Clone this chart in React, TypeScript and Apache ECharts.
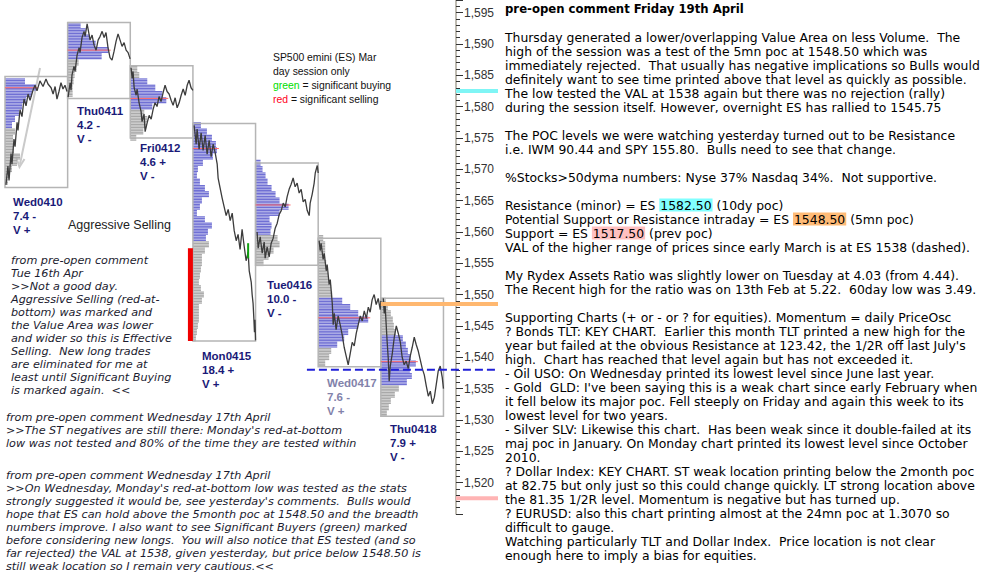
import React, { useEffect, useRef } from "react";
import * as echarts from "echarts";

// ---------- data ----------
const DAYS = ["Wed0410", "Thu0411", "Fri0412", "Mon0415", "Tue0416", "Wed0417", "Thu0418"];
const DAY_RANGE = ["7.4 -", "4.2 -", "4.6 +", "18.4 +", "10.0 -", "7.6 -", "7.9 +"];
const DAY_VOL = ["V +", "V -", "V -", "V +", "V -", "V +", "V -"];
const HIGHS = [1584.8, 1593.4, 1586.5, 1577.3, 1571.0, 1559.0, 1549.4];
const LOWS = [1567.1, 1581.3, 1575.0, 1542.6, 1554.7, 1538.5, 1530.6];
const POCS = [1583.0, 1589.0, 1581.3, 1573.3, 1564.3, 1546.3, 1539.3];
const VA_HIGH = [1585.0, 1594.0, 1584.5, 1578.0, 1572.0, 1549.5, 1543.5];
const VA_LOW = [1576.5, 1587.5, 1579.5, 1558.5, 1559.5, 1541.5, 1535.5];
const PROFILE_TOP = [1584, 1593, 1586, 1577, 1571, 1559, 1549];

const PROFILE_WED0410 = [20, 31, 27, 21, 17, 14, 10, 7, 10, 8, 8, 9, 15, 12, 7, 5, 3];
const PROFILE_THU0411 = [13, 18, 22, 28, 41, 34, 11, 9, 7, 6, 5, 5];
const PROFILE_FRI0412 = [7, 9, 17, 25, 32, 36, 22, 14, 17, 16, 13, 6];
const PROFILE_MON0415 = [8, 14, 19, 23, 24, 20, 10, 5, 4, 7, 12, 16, 9, 7, 4, 12, 19, 15, 13, 16, 12, 9, 9, 8, 7, 6, 8, 11, 9, 6, 6, 6, 5, 4, 3];
const PROFILE_TUE0416 = [5, 7, 10, 12, 16, 20, 24, 33, 24, 14, 16, 15, 22, 24, 18, 13, 8];
const PROFILE_WED0417 = [5, 7, 7, 7, 8, 9, 10, 11, 13, 14, 24, 32, 40, 50, 40, 30, 26, 19, 13, 11, 7];
const PROFILE_THU0418 = [5, 7, 10, 12, 13, 15, 22, 25, 27, 30, 35, 29, 31, 26, 18, 14, 10, 8, 6];
const PROFILES = [PROFILE_WED0410, PROFILE_THU0411, PROFILE_FRI0412, PROFILE_MON0415, PROFILE_TUE0416, PROFILE_WED0417, PROFILE_THU0418];

// price paths: [minute of session, price]
const PATH_WED0410 = [[6,1567.5],[19,1570.5],[26,1568.2],[39,1572.5],[45,1570.8],[58,1574.8],[65,1573.6],[78,1577.5],[84,1576.2],[97,1579.5],[110,1578.4],[123,1581.2],[136,1580.1],[149,1582.0],[162,1581.0],[181,1582.6],[194,1583.4],[207,1582.5],[226,1584.1],[246,1583.2],[265,1584.4],[278,1583.6],[298,1583.0],[311,1582.0],[324,1583.2],[336,1581.2],[349,1582.4],[362,1583.8],[375,1582.8],[388,1583.4],[401,1582.4]];
const PATH_THU0411 = [[3,1581.5],[16,1583.8],[22,1582.6],[28,1585.0],[41,1586.4],[48,1585.6],[61,1588.2],[74,1589.4],[80,1588.6],[93,1591.0],[106,1592.0],[113,1591.2],[126,1593.2],[138,1591.6],[145,1590.6],[158,1591.4],[171,1589.8],[184,1589.0],[197,1590.6],[210,1591.2],[223,1592.0],[236,1591.0],[248,1591.8],[261,1589.4],[274,1587.8],[287,1587.4],[300,1588.8],[313,1590.4],[326,1591.6],[339,1590.6],[352,1589.6],[365,1590.2],[378,1589.0],[391,1588.6],[404,1587.6]];
const PATH_FRI0412 = [[5,1586.2],[12,1584.5],[18,1585.6],[25,1583.0],[38,1581.8],[44,1582.8],[57,1580.6],[70,1579.2],[76,1577.6],[89,1578.8],[96,1576.0],[109,1577.4],[122,1578.6],[135,1578.0],[148,1579.6],[160,1580.6],[173,1580.0],[186,1581.6],[199,1580.8],[212,1582.2],[225,1583.4],[238,1582.4],[251,1582.0],[264,1581.0],[277,1580.2],[290,1581.4],[303,1579.8],[316,1580.6],[329,1581.8],[342,1582.8],[355,1581.8],[368,1583.4],[380,1584.2],[393,1583.0],[405,1582.6]];
const PATH_MON0415 = [[8,1577.0],[21,1574.0],[27,1576.4],[40,1573.2],[53,1575.8],[66,1573.0],[79,1575.4],[92,1572.4],[105,1574.6],[118,1572.0],[131,1574.0],[144,1572.6],[157,1570.8],[163,1568.6],[176,1567.0],[189,1565.4],[202,1564.0],[215,1562.6],[228,1563.6],[241,1561.8],[254,1563.0],[267,1560.2],[280,1558.6],[292,1559.6],[305,1557.2],[318,1560.4],[331,1557.8],[344,1555.4],[357,1556.8],[364,1553.8],[377,1552.0],[383,1550.0],[389,1548.6],[394,1546.2],[398,1544.0],[401,1546.0],[405,1542.7]];
const PATH_TUE0416 = [[10,1560.0],[17,1557.4],[30,1559.2],[43,1556.6],[56,1558.4],[62,1555.8],[75,1557.6],[88,1556.0],[101,1558.2],[114,1559.0],[127,1560.6],[140,1561.4],[153,1562.8],[166,1563.4],[179,1564.6],[192,1564.0],[204,1565.6],[217,1566.8],[230,1567.6],[243,1568.6],[256,1567.2],[269,1567.8],[282,1566.2],[295,1566.8],[308,1564.8],[321,1565.2],[334,1563.4],[347,1562.6],[353,1564.6],[366,1566.0],[379,1567.8],[386,1569.4],[399,1570.6],[405,1569.4]];
const PATH_WED0417 = [[6,1558.6],[13,1557.0],[19,1558.2],[32,1555.6],[39,1556.6],[52,1553.8],[58,1554.8],[71,1551.6],[78,1552.4],[91,1548.6],[97,1545.2],[104,1547.0],[116,1544.4],[129,1546.6],[142,1545.2],[155,1543.6],[168,1541.6],[181,1540.2],[194,1538.8],[207,1540.6],[220,1542.4],[233,1541.8],[246,1543.8],[259,1545.2],[272,1546.6],[285,1545.8],[298,1547.4],[311,1546.2],[324,1548.0],[336,1547.2],[349,1549.2],[362,1550.0],[375,1548.4],[388,1549.4],[401,1547.6],[405,1549.0]];
const PATH_THU0418 = [[16,1549.4],[22,1547.0],[28,1548.2],[35,1545.0],[41,1542.4],[48,1539.8],[54,1536.2],[61,1538.6],[74,1540.6],[87,1543.2],[100,1545.0],[113,1543.8],[126,1542.4],[138,1540.0],[151,1538.8],[164,1539.4],[177,1538.2],[190,1540.2],[203,1541.6],[216,1543.2],[229,1542.0],[242,1541.0],[255,1539.6],[268,1538.2],[281,1537.2],[294,1535.4],[307,1533.8],[320,1534.6],[333,1532.6],[346,1533.6],[358,1535.6],[371,1537.8],[384,1538.6],[397,1536.8],[405,1535.0]];
const PATHS = [PATH_WED0410, PATH_THU0411, PATH_FRI0412, PATH_MON0415, PATH_TUE0416, PATH_WED0417, PATH_THU0418];

const SELLING = [[3, 1557.4, 1542.6]]; // [day, top, bottom]
const BUYING = [[3, 357, 1558.2, 1555.8]]; // [day, minute, top, bottom]
const LEVEL_PRICES = [1582.5, 1548.5, 1517.5];
const LEVEL_START_DAY = [7.2, 6.0, 7.2];
const LEVEL_COLORS = ["#7ff5f5", "#ffb870", "#ffb4b4"];
const VAL_PRICE = 1538;
const VAL_START_DAY = 4.82;

const Y_MIN = 1515;
const Y_MAX = 1597;
const Y_INTERVAL = 5;
const SESSION_MIN = 405;
const TPO_UNIT = 1 / 62.6;

const RIGHT_LINES = [
  "Thursday generated a lower/overlapping Value Area on less Volume.  The",
  "high of the session was a test of the 5mn poc at 1548.50 which was",
  "immediately rejected.  That usually has negative implications so Bulls would",
  "definitely want to see time printed above that level as quickly as possible.",
  "The low tested the VAL at 1538 again but there was no rejection (rally)",
  "during the session itself. However, overnight ES has rallied to 1545.75",
  "",
  "The POC levels we were watching yesterday turned out to be Resistance",
  "i.e. IWM 90.44 and SPY 155.80.  Bulls need to see that change.",
  "",
  "%Stocks>50dyma numbers: Nyse 37% Nasdaq 34%.  Not supportive.",
  "",
  "Resistance (minor) = ES {c|1582.50} (10dy poc)",
  "Potential Support or Resistance intraday = ES {o|1548.50} (5mn poc)",
  "Support = ES {p|1517.50} (prev poc)",
  "VAL of the higher range of prices since early March is at ES 1538 (dashed).",
  "",
  "My Rydex Assets Ratio was slightly lower on Tuesday at 4.03 (from 4.44).",
  "The Recent high for the ratio was on 13th Feb at 5.22.  60day low was 3.49.",
  "",
  "Supporting Charts (+ or - or ? for equities). Momentum = daily PriceOsc",
  "? Bonds TLT: KEY CHART.  Earlier this month TLT printed a new high for the",
  "year but failed at the obvious Resistance at 123.42, the 1/2R off last July's",
  "high.  Chart has reached that level again but has not exceeded it.",
  "- Oil USO: On Wednesday printed its lowest level since June last year.",
  "- Gold  GLD: I've been saying this is a weak chart since early February when",
  "it fell below its major poc. Fell steeply on Friday and again this week to its",
  "lowest level for two years.",
  "- Silver SLV: Likewise this chart.  Has been weak since it double-failed at its",
  "maj poc in January. On Monday chart printed its lowest level since October",
  "2010.",
  "? Dollar Index: KEY CHART. ST weak location printing below the 2month poc",
  "at 82.75 but only just so this could change quickly. LT strong location above",
  "the 81.35 1/2R level. Momentum is negative but has turned up.",
  "? EURUSD: also this chart printing almost at the 24mn poc at 1.3070 so",
  "difficult to gauge.",
  "Watching particularly TLT and Dollar Index.  Price location is not clear",
  "enough here to imply a bias for equities.",
];
const RIGHT_TITLE = "pre-open comment Friday 19th April";

const LEFT_BLOCK1 = [
  "from pre-open comment",
  "Tue 16th Apr",
  ">>Not a good day.",
  "Aggressive Selling (red-at-",
  "bottom) was marked and",
  "the Value Area was lower",
  "and wider so this is Effective",
  "Selling.  New long trades",
  "are eliminated for me at",
  "least until Significant Buying",
  "is marked again.  <<",
];
const LEFT_BLOCK2 = [
  "from pre-open comment Wednesday 17th April",
  ">>The ST negatives are still there: Monday's red-at-bottom",
  "low was not tested and 80% of the time they are tested within",
];
const LEFT_BLOCK3 = [
  "from pre-open comment Wednesday 17th April",
  ">>On Wednesday, Monday's red-at-bottom low was tested as the stats",
  "strongly suggested it would be, see yesterday's comments.  Bulls would",
  "hope that ES can hold above the 5month poc at 1548.50 and the breadth",
  "numbers improve. I also want to see Significant Buyers (green) marked",
  "before considering new longs.  You will also notice that ES tested (and so",
  "far rejected) the VAL at 1538, given yesterday, but price below 1548.50 is",
  "still weak location so I remain very cautious.<<",
];
const LEGEND_LINES = ["SP500 emini (ES) Mar", "day session only", "{g|green} = significant buying", "{r|red} = significant selling"];

// ---------- layout / styles ----------
const LABEL_POS = [[13, 202], [77, 111], [140, 148], [202, 356], [267, 285], [327, 383], [390, 429]];
const VERDANA = "Verdana, 'DejaVu Sans', sans-serif";
const ARIAL = "Arial, 'Liberation Sans', sans-serif";
const VA_BLUE = "#7070d4";
const OUT_GRAY = "#a9a9a9";

export default function App() {
  const ref = useRef<HTMLDivElement>(null);
  useEffect(() => {
    if (!ref.current) return;
    const chart = echarts.init(ref.current, undefined, { renderer: "svg" });

    const profileData: number[][] = [];
    PROFILES.forEach((prof, d) => {
      prof.forEach((w, i) => {
        const p = PROFILE_TOP[d] - i;
        const va = p >= VA_LOW[d] && p <= VA_HIGH[d] ? 1 : 0;
        profileData.push([d, p, w, va]);
      });
    });
    const boxData = DAYS.map((_, d) => [d, HIGHS[d], LOWS[d]]);
    const pocData = DAYS.map((_, d) => [d, POCS[d], Math.max(...PROFILES[d]) + 2]);

    const series: any[] = [];
    series.push({
      type: "custom",
      clip: false,
      data: profileData,
      z: 1,
      renderItem: (params: any, api: any) => {
        const d = api.value(0), p = api.value(1), w = api.value(2), va = api.value(3);
        const children: any[] = [];
        for (let k = 0; k < 4; k++) {
          const top = p + 0.5 - k * 0.25;
          const a = api.coord([d, top]);
          const b = api.coord([d + w * TPO_UNIT, top - 0.25]);
          children.push({
            type: "rect",
            shape: { x: a[0], y: a[1], width: b[0] - a[0], height: Math.max(0.6, b[1] - a[1] - 0.3) },
            style: { fill: va ? VA_BLUE : OUT_GRAY },
          });
        }
        return { type: "group", children };
      },
    });
    series.push({
      type: "custom",
      clip: false,
      data: boxData,
      z: 2,
      renderItem: (params: any, api: any) => {
        const d = api.value(0);
        const a = api.coord([d, api.value(1)]);
        const b = api.coord([d + 1, api.value(2)]);
        return {
          type: "rect",
          shape: { x: a[0], y: a[1], width: b[0] - a[0], height: b[1] - a[1] },
          style: { fill: "none", stroke: "#b5b5b5", lineWidth: 1.5 },
        };
      },
    });
    series.push({
      type: "custom",
      clip: false,
      data: pocData,
      z: 3,
      renderItem: (params: any, api: any) => {
        const d = api.value(0);
        const a = api.coord([d, api.value(1)]);
        const b = api.coord([d + api.value(2) * TPO_UNIT, api.value(1)]);
        return {
          type: "line",
          shape: { x1: a[0], y1: a[1], x2: b[0], y2: b[1] },
          style: { stroke: "#ff6a6a", lineWidth: 1 },
        };
      },
    });
    PATHS.forEach((path, d) => {
      series.push({
        type: "line",
        data: path.map(([m, p]) => [d + m / SESSION_MIN, p]),
        symbol: "none",
        z: 4,
        lineStyle: { color: "#3c3c3c", width: 1.3 },
      });
    });
    series.push({
      type: "custom",
      clip: false,
      data: SELLING,
      z: 5,
      renderItem: (params: any, api: any) => {
        const d = api.value(0);
        const a = api.coord([d, api.value(1)]);
        const b = api.coord([d, api.value(2)]);
        return {
          type: "rect",
          shape: { x: a[0] - 5, y: a[1], width: 5, height: b[1] - a[1] },
          style: { fill: "#f00000" },
        };
      },
    });
    series.push({
      type: "custom",
      clip: false,
      data: BUYING,
      z: 5,
      renderItem: (params: any, api: any) => {
        const x = api.value(0) + api.value(1) / SESSION_MIN;
        const a = api.coord([x, api.value(2)]);
        const b = api.coord([x, api.value(3)]);
        return {
          type: "line",
          shape: { x1: a[0], y1: a[1], x2: b[0], y2: b[1] },
          style: { stroke: "#10a010", lineWidth: 2 },
        };
      },
    });
    series.push({
      type: "custom",
      clip: false,
      data: LEVEL_PRICES.map((p, i) => [LEVEL_START_DAY[i], p, i]),
      z: 6,
      renderItem: (params: any, api: any) => {
        const i = api.value(2);
        const a = api.coord([api.value(0), api.value(1)]);
        const axisX = api.coord([7.2, api.value(1)])[0];
        return {
          type: "line",
          shape: { x1: a[0], y1: a[1], x2: axisX + 42, y2: a[1] },
          style: { stroke: LEVEL_COLORS[i], lineWidth: 4 },
        };
      },
    });
    series.push({
      type: "custom",
      clip: false,
      data: [[VAL_START_DAY, VAL_PRICE]],
      z: 7,
      renderItem: (params: any, api: any) => {
        const a = api.coord([api.value(0), api.value(1)]);
        const axisX = api.coord([7.2, api.value(1)])[0];
        return {
          type: "line",
          shape: { x1: a[0], y1: a[1], x2: axisX + 42, y2: a[1] },
          style: { stroke: "#2020d8", lineWidth: 2, lineDash: [8, 4] },
        };
      },
    });

    const graphics: any[] = [];
    const txt = (x: number, y: number, style: any) => ({
      type: "text", x, y, style: { verticalAlign: "middle", align: "left", ...style },
    });
    // day labels
    DAYS.forEach((name, d) => {
      const [x, y] = LABEL_POS[d];
      const col = d === 5 ? "#8282aa" : "#1a1a78";
      [name, DAY_RANGE[d], DAY_VOL[d]].forEach((t, j) => {
        graphics.push(txt(x, y + j * 14, { text: t, fill: col, font: `bold 11.5px ${ARIAL}` }));
      });
    });
    // arrow
    graphics.push({ type: "line", shape: { x1: 40, y1: 68, x2: 20, y2: 164 }, style: { stroke: "#cacaca", lineWidth: 2 } });
    graphics.push({ type: "polyline", shape: { points: [[16, 157], [19.5, 167], [24.5, 159]] }, style: { stroke: "#cacaca", lineWidth: 2, fill: "none" } });
    graphics.push(txt(68, 225, { text: "Aggressive Selling", fill: "#222", font: `12.5px ${ARIAL}` }));
    // legend
    LEGEND_LINES.forEach((t, j) => {
      graphics.push(txt(273, 57 + j * 14, {
        text: t, fill: "#111", font: `10.4px ${ARIAL}`,
        rich: {
          g: { fill: "#00dd00", fontSize: 10.4, fontFamily: ARIAL },
          r: { fill: "#ff0022", fontSize: 10.4, fontFamily: ARIAL },
        },
      }));
    });
    // left comments
    const addBlock = (lines: string[], x: number, y0: number) => {
      lines.forEach((t, j) => {
        graphics.push(txt(x, y0 + j * 13, { text: t, fill: "#1c1c30", font: `italic 11.2px ${VERDANA}` }));
      });
    };
    addBlock(LEFT_BLOCK1, 11, 260);
    addBlock(LEFT_BLOCK2, 6, 417);
    addBlock(LEFT_BLOCK3, 6, 475);
    // right commentary
    graphics.push(txt(505, 9, { text: RIGHT_TITLE, fill: "#000", font: `bold 11.7px ${VERDANA}` }));
    RIGHT_LINES.forEach((t, j) => {
      if (!t) return;
      const rs = (bg: string) => ({ backgroundColor: bg, fill: "#000", fontSize: 12.4, fontFamily: VERDANA, padding: [1, 1, 0, 1] });
      graphics.push(txt(505, 37 + j * 14, {
        text: t, fill: "#000", font: `12.4px ${VERDANA}`,
        rich: { c: rs("#80ffff"), o: rs("#ffbb77"), p: rs("#ffc0c0") },
      }));
    });

    chart.setOption({
      animation: false,
      grid: { left: 5, right: 540, top: 0, bottom: 70 },
      xAxis: { type: "value", min: 0, max: 7.2, show: false },
      yAxis: {
        type: "value",
        position: "right",
        min: Y_MIN,
        max: Y_MAX,
        interval: Y_INTERVAL,
        axisLine: { show: true, onZero: false, lineStyle: { color: "#aaa497", width: 1.5 } },
        axisTick: { show: true, length: 7, lineStyle: { color: "#333" } },
        minorTick: { show: true, splitNumber: 5, length: 4, lineStyle: { color: "#333" } },
        splitLine: { show: false },
        axisLabel: {
          margin: 8, color: "#333", fontSize: 12, fontFamily: ARIAL, showMinLabel: false, showMaxLabel: false,
          formatter: (v: number) => v.toLocaleString("en-US"),
        },
      },
      series,
      graphic: graphics,
    });
    return () => chart.dispose();
  }, []);
  return <div ref={ref} style={{ position: "absolute", left: 0, top: 0, width: 996, height: 584, background: "#fff" }} />;
}
